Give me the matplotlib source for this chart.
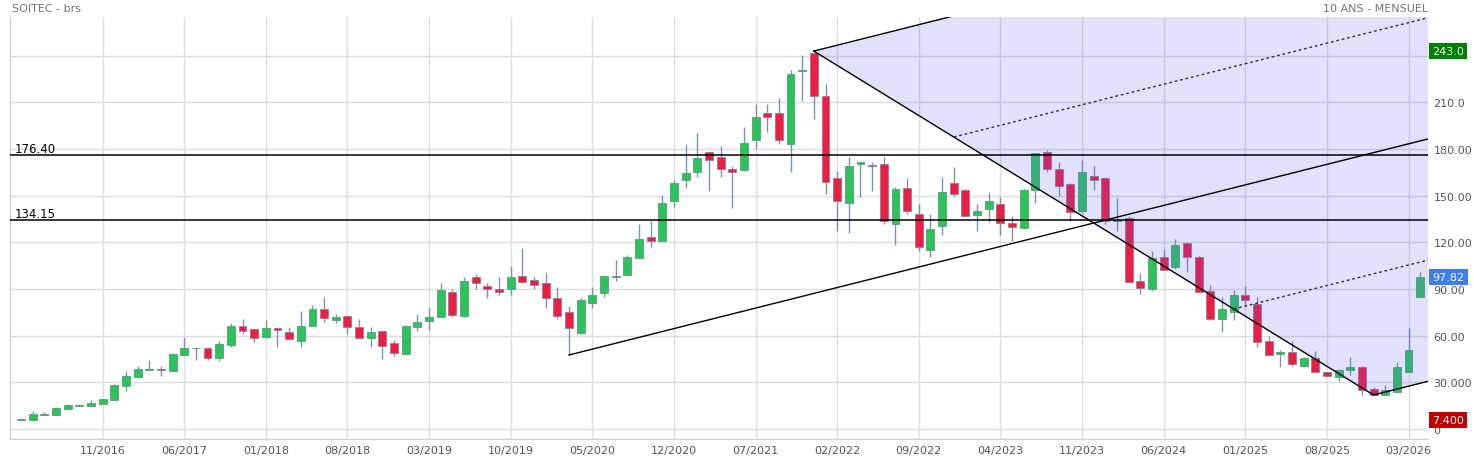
import matplotlib
matplotlib.use("Agg")
import matplotlib.pyplot as plt
import numpy as np

# monthly candles, 04/2016 .. 04/2026 (open, high, low, close)
opens = [6.0, 6.0, 9.0, 9.2, 13.1, 15.0, 15.0, 16.3, 18.9, 27.9,
         33.6, 37.8, 38.6, 37.5, 47.8, 51.8, 52.3, 45.8, 54.2, 66.0,
         64.0, 58.9, 64.7, 62.6, 56.7, 66.0, 77.1, 69.8, 72.6, 65.4,
         58.7, 62.8, 55.3, 48.2, 65.7, 69.5, 72.2, 87.8, 72.8, 97.5,
         91.8, 90.1, 90.2, 98.1, 95.9, 93.6, 84.2, 75.0, 61.9, 80.8,
         87.2, 97.5, 99.2, 110.2, 123.2, 121.0, 146.8, 159.8, 165.4, 177.9,
         175.0, 167.0, 166.3, 186.0, 202.9, 203.1, 183.2, 230.5, 241.6, 214.2,
         161.1, 145.6, 170.1, 169.4, 170.3, 132.0, 154.7, 138.2, 115.2, 130.7,
         158.5, 154.0, 137.3, 141.2, 145.0, 132.6, 129.4, 153.8, 177.8, 167.0,
         157.5, 139.9, 162.4, 161.1, 134.5, 135.4, 95.3, 90.0, 110.4, 104.3,
         119.6, 110.4, 88.5, 70.7, 75.0, 86.1, 80.4, 56.4, 48.5, 49.3,
         40.5, 45.6, 36.4, 33.6, 38.1, 40.0, 25.7, 22.0, 23.6, 36.8,
         85.0]
highs = [7.0, 11.4, 10.7, 14.0, 16.0, 16.0, 18.5, 19.6, 28.9, 37.3,
         40.6, 44.3, 40.6, 48.6, 59.3, 53.0, 53.0, 56.6, 68.0, 70.7,
         64.0, 70.0, 65.5, 65.5, 75.8, 80.0, 84.6, 74.0, 73.0, 70.5,
         65.6, 63.0, 57.5, 67.0, 73.9, 78.0, 94.0, 90.0, 97.5, 99.5,
         94.0, 97.5, 104.7, 116.3, 98.0, 100.0, 91.0, 79.0, 84.0, 91.0,
         98.5, 108.6, 112.0, 131.7, 134.0, 150.6, 160.0, 182.5, 190.2, 179.0,
         182.0, 169.0, 194.0, 208.9, 209.0, 212.7, 230.7, 240.4, 243.0, 221.8,
         166.0, 174.6, 172.0, 172.0, 174.6, 155.4, 161.3, 144.6, 138.2, 161.8,
         168.3, 154.5, 145.0, 151.5, 149.0, 137.0, 154.5, 177.4, 179.3, 172.0,
         158.0, 172.7, 169.4, 162.0, 148.5, 137.0, 100.0, 114.5, 116.0, 122.1,
         120.5, 111.0, 92.6, 84.6, 89.3, 92.0, 84.6, 59.5, 50.8, 56.6,
         46.0, 50.0, 36.6, 38.8, 46.0, 40.5, 27.0, 28.6, 43.0, 64.7,
         100.7]
lows = [5.8, 6.0, 9.0, 9.2, 13.1, 15.0, 15.0, 16.3, 18.9, 24.6,
        32.5, 37.8, 33.8, 37.5, 47.8, 44.5, 44.5, 44.0, 53.0, 61.0,
        56.0, 58.3, 53.0, 57.9, 53.0, 66.0, 69.0, 68.0, 61.0, 58.3,
        53.0, 45.0, 47.0, 48.0, 63.0, 63.5, 72.2, 72.0, 72.0, 90.0,
        84.0, 86.0, 86.0, 94.0, 90.0, 78.0, 71.0, 47.6, 61.0, 78.0,
        85.0, 95.0, 99.2, 110.0, 117.0, 121.0, 143.0, 155.0, 162.0, 153.2,
        162.0, 142.0, 166.0, 180.0, 191.0, 183.0, 165.4, 211.0, 199.2, 151.0,
        127.5, 126.0, 149.3, 153.0, 131.6, 118.5, 138.0, 114.5, 110.3, 125.0,
        150.0, 137.0, 127.0, 133.3, 125.0, 121.0, 129.0, 145.6, 165.4, 150.0,
        134.0, 139.0, 154.0, 132.0, 127.4, 94.3, 87.0, 89.0, 102.0, 103.0,
        100.7, 88.3, 70.0, 62.6, 70.0, 80.0, 52.5, 47.8, 39.6, 40.5,
        40.0, 36.8, 34.3, 31.0, 35.0, 22.0, 21.9, 22.0, 23.0, 36.8,
        85.0]
closes = [6.5, 9.4, 9.6, 13.3, 15.4, 15.4, 16.7, 19.3, 28.3, 34.1,
          38.6, 38.6, 37.8, 48.0, 52.0, 52.3, 45.7, 54.4, 66.0, 62.8,
          58.3, 64.7, 63.4, 57.9, 66.2, 77.1, 71.1, 72.0, 65.4, 58.3,
          62.3, 53.1, 49.0, 66.2, 68.8, 71.8, 89.3, 73.5, 95.1, 93.6,
          89.9, 88.4, 97.7, 94.7, 92.3, 84.0, 72.4, 64.7, 82.9, 86.1,
          98.2, 97.9, 110.4, 122.2, 120.6, 145.2, 157.9, 164.3, 174.2, 172.7,
          167.0, 165.4, 184.2, 200.3, 200.8, 186.0, 228.1, 230.9, 213.8, 158.8,
          146.4, 169.4, 171.4, 169.2, 133.9, 154.2, 139.9, 117.2, 128.5, 152.1,
          151.4, 137.0, 139.9, 146.5, 132.2, 129.6, 153.6, 177.4, 167.5, 156.4,
          139.3, 165.0, 160.3, 134.0, 133.8, 94.3, 90.8, 109.7, 102.4, 118.3,
          110.8, 88.3, 70.7, 77.1, 86.1, 83.1, 56.1, 47.8, 49.5, 41.8,
          45.6, 36.8, 34.3, 37.9, 40.0, 25.0, 22.0, 25.0, 40.0, 50.8,
          97.8]

tick_labels = ["11/2016", "06/2017", "01/2018", "08/2018", "03/2019", "10/2019",
               "05/2020", "12/2020", "07/2021", "02/2022", "09/2022", "04/2023",
               "11/2023", "06/2024", "01/2025", "08/2025", "03/2026"]
y_ticks = [0, 30, 60, 90, 120, 150, 180, 210]
y_labels = ["0", "30.000", "60.00", "90.00", "120.00", "150.00", "180.00", "210.0"]
levels = [176.40, 134.15]
# pitchfork pivots (candle index, price)
piv_a = (47, 47.6)
piv_b = (68, 243.0)
piv_c = (116, 21.9)

GREEN = "#2bc35a"
RED = "#ef1d40"
WICK = "#7b93b3"

fig = plt.figure(figsize=(14.74, 4.6), dpi=100)
ax = fig.add_axes([10 / 1474, 20 / 460, 1418 / 1474, 422 / 460])
xmin, xmax = -0.94, 120.67
ax.set_xlim(xmin, xmax)
ax.set_ylim(-6.4, 264.9)

for y in range(0, 270, 30):
    ax.axhline(y, color="#dddddd", lw=1, zorder=0)
tick_pos = [7 + 7 * i for i in range(len(tick_labels))]
for x in tick_pos:
    ax.axvline(x, color="#dddddd", lw=1, zorder=0)

# candles
w = 0.68
for i, (o, h, l, c) in enumerate(zip(opens, highs, lows, closes)):
    col = GREEN if c >= o else RED
    ax.vlines(i, l, h, color=WICK, lw=1, zorder=2)
    bottom = min(o, c)
    height = max(abs(c - o), 0.6)
    ax.bar(i, height, width=w, bottom=bottom, color=col,
           edgecolor="#8a7fa0" if col == RED else "#5a9a80", linewidth=0.6, zorder=3)

# horizontal levels
for lv in levels:
    ax.axhline(lv, color="black", lw=1.1, zorder=4)
    ax.text(-0.5, lv + 2.0, f"{lv:.2f}", fontsize=8.5, color="black", zorder=5)

# Andrews pitchfork
ax_, ay = piv_a
bx, by = piv_b
cx, cy = piv_c
mx, my = (bx + cx) / 2, (by + cy) / 2
s = (my - ay) / (mx - ax_)
yb_r = by + s * (xmax - bx)
yc_r = cy + s * (xmax - cx)
ax.fill([bx, xmax, xmax, cx], [by, yb_r, yc_r, cy], color="#5a5af0", alpha=0.18,
        lw=0, zorder=3.5)
ax.plot([ax_, xmax], [ay, ay + s * (xmax - ax_)], color="black", lw=1, zorder=4)
ax.plot([bx, xmax], [by, yb_r], color="black", lw=1, zorder=4)
ax.plot([cx, xmax], [cy, yc_r], color="black", lw=1, zorder=4)
ax.plot([bx, cx], [by, cy], color="black", lw=1, zorder=4)
for t in (0.25, 0.75):
    px, py = bx + t * (cx - bx), by + t * (cy - by)
    ax.plot([px, xmax], [py, py + s * (xmax - px)], color="#333333", lw=1,
            ls=(0, (2, 2)), zorder=4)

ax.set_xticks(tick_pos)
ax.set_xticklabels(tick_labels)
ax.yaxis.tick_right()
ax.set_yticks(y_ticks)
ax.set_yticklabels(y_labels)
ax.tick_params(axis="both", length=0, labelsize=8, colors="#555555", pad=4)
for sp in ["top", "right"]:
    ax.spines[sp].set_visible(False)
for sp in ["left", "bottom"]:
    ax.spines[sp].set_color("#cccccc")

trans = ax.get_yaxis_transform()
for val, txt, bg in [(243.0, "243.0", "#008000"), (97.82, "97.82", "#3d7cf5"),
                     (5.8, "7.400", "#c00000")]:
    ax.text(1.003, val, txt, transform=trans, fontsize=8, color="white", va="center",
            ha="left", bbox=dict(boxstyle="square,pad=0.3", fc=bg, ec="none"),
            clip_on=False, zorder=6)

fig.text(12 / 1474, 1 - 9 / 460, "SOITEC - brs", fontsize=8, color="#777777", va="center")
fig.text(1428 / 1474, 1 - 9 / 460, "10 ANS - MENSUEL", fontsize=8, color="#777777",
         va="center", ha="right")

fig.savefig("out.png", dpi=100)
